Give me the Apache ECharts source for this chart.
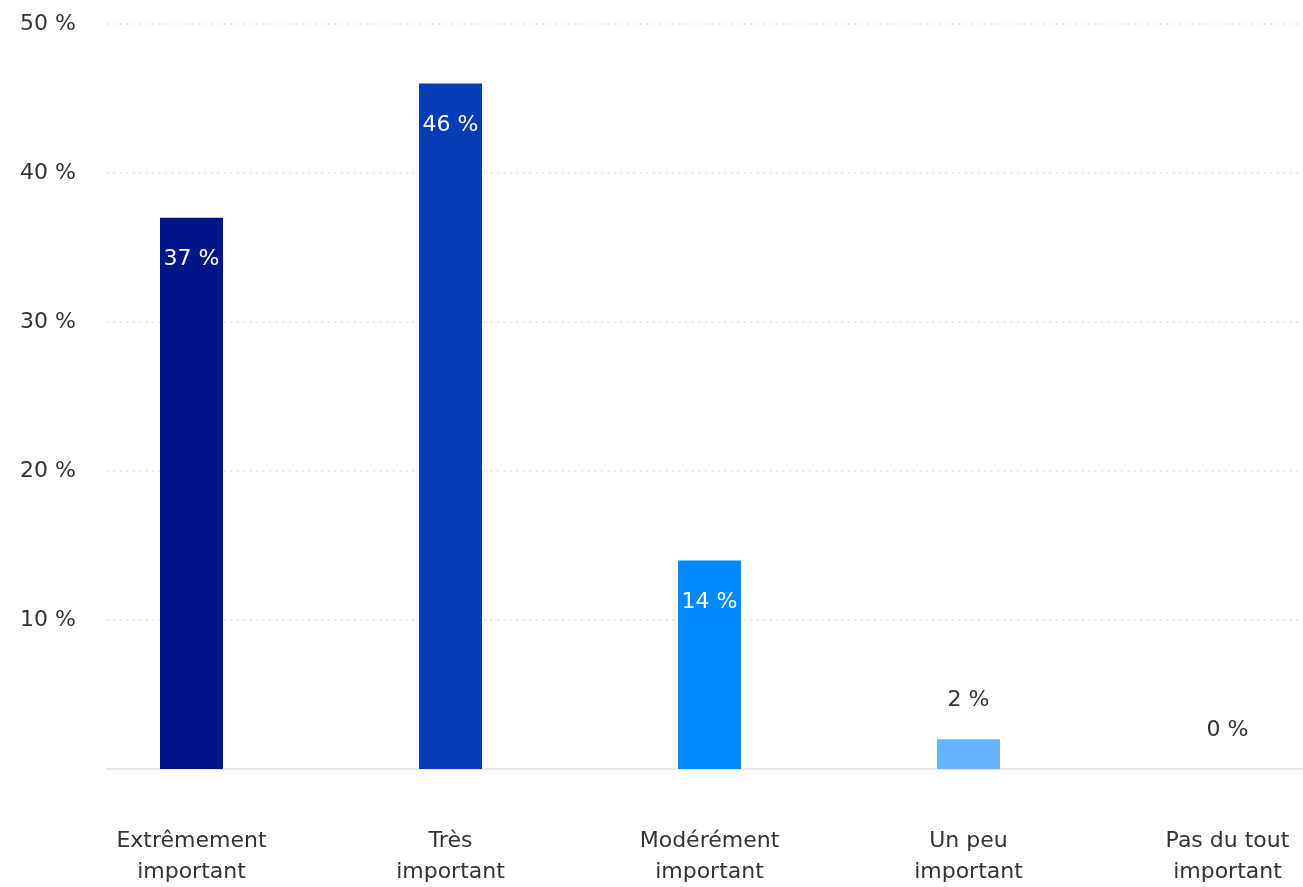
<!DOCTYPE html>
<html>
<head>
<meta charset="utf-8">
<style>
  html, body { margin: 0; padding: 0; background: #ffffff; }
  #chart { width: 1303px; height: 887px; }
</style>
<script src="https://cdn.jsdelivr.net/npm/echarts@6/dist/echarts.min.js"></script>
</head>
<body>
<div id="chart"></div>
<script>
// Importance ratings, share of respondents (%)
const categories = ['Extrêmement\nimportant', 'Très\nimportant', 'Modérément\nimportant', 'Un peu\nimportant', 'Pas du tout\nimportant'];
const values = [37, 46, 14, 2, 0];
const barColors = ['#001689', '#063cb5', '#0089ff', '#66b3ff', '#66b3ff'];
const yTicks = [0, 10, 20, 30, 40, 50];

const FONT = 'DejaVu Sans';
const TEXT = '#333333';
const SIZE = 22;

const chart = echarts.init(document.getElementById('chart'));

const barData = values.map((v, i) => {
  const inside = v >= 10;
  return {
    value: v,
    itemStyle: { color: barColors[i] },
    label: inside
      ? { position: 'insideTop', distance: 31, color: '#ffffff' }
      : { position: 'top', distance: 28, color: TEXT }
  };
});

chart.setOption({
  animation: false,
  grid: [
    // frame for the value axis, gridlines and baseline
    { left: 107, right: 0, top: 24, bottom: 118, outerBoundsMode: 'none' },
    // category band layout for the bars (runs past the right edge)
    { left: 62, width: 1295, top: 24, bottom: 118, outerBoundsMode: 'none' }
  ],
  xAxis: [
    {
      gridIndex: 0, type: 'value', min: 0, max: 1,
      axisLine: { show: true, lineStyle: { color: '#e6e6e6', width: 2 } },
      axisTick: { show: false }, axisLabel: { show: false }, splitLine: { show: false }
    },
    {
      gridIndex: 1, type: 'category', data: categories,
      axisLine: { show: false }, axisTick: { show: false },
      axisLabel: {
        margin: 57, color: TEXT, fontFamily: FONT, fontSize: SIZE, lineHeight: 31,
        align: 'center', interval: 0
      }
    }
  ],
  yAxis: [
    {
      gridIndex: 0, type: 'value', min: yTicks[0], max: yTicks[yTicks.length - 1], interval: 10,
      axisLine: { show: false }, axisTick: { show: false },
      axisLabel: {
        align: 'left', margin: 87, color: TEXT, fontFamily: FONT, fontSize: SIZE,
        formatter: v => (v === 0 ? '' : v + ' %')
      },
      splitLine: { show: true, lineStyle: { color: '#dcdcdc', width: 1.5, type: [1.5, 5] } }
    },
    {
      gridIndex: 1, type: 'value', min: yTicks[0], max: yTicks[yTicks.length - 1], interval: 10,
      show: false, splitLine: { show: false }
    }
  ],
  series: [
    {
      type: 'bar', xAxisIndex: 1, yAxisIndex: 1, barWidth: 63,
      data: barData,
      label: {
        show: true, fontFamily: FONT, fontSize: SIZE,
        formatter: p => p.value + ' %'
      }
    }
  ]
});
</script>
</body>
</html>
